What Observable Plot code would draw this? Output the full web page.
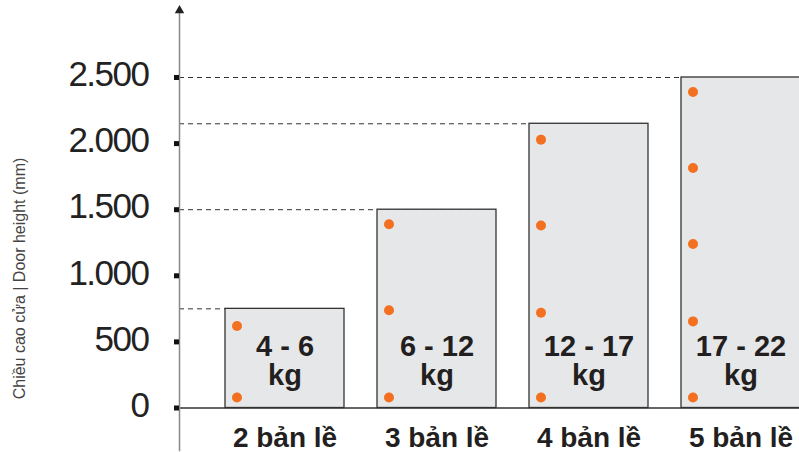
<!DOCTYPE html>
<html><head><meta charset="utf-8">
<script src="https://cdn.jsdelivr.net/npm/d3@7"></script>
<script src="https://cdn.jsdelivr.net/npm/@observablehq/plot@0.6"></script>
<style>
body{margin:0;background:#fff;}
#chart svg{display:block;}
</style></head><body><div id="chart"></div>
<script>
const hinges = ["2 bản lề", "3 bản lề", "4 bản lề", "5 bản lề"];
const heights = [750, 1500, 2150, 2500];
const weights = ["4 - 6", "6 - 12", "12 - 17", "17 - 22"];
const hingePositions = [
  [80, 620],
  [80, 740, 1390],
  [80, 720, 1380, 2030],
  [80, 655, 1240, 1815, 2390]
];
const yTicks = [0, 500, 1000, 1500, 2000, 2500];
const yTickLabels = ["0", "500", "1.000", "1.500", "2.000", "2.500"];
const yTitle = "Chiều cao cửa | Door height (mm)";

const rows = hinges.map((h, i) => ({hinge: h, height: heights[i], weight: weights[i]}));
const dots = hinges.flatMap((h, i) => hingePositions[i].map(p => ({hinge: h, pos: p})));
const font = "'Liberation Sans', Arial, Helvetica, sans-serif";

const chart = Plot.plot({
  width: 799, height: 452,
  marginLeft: 179, marginRight: 0, marginTop: 10, marginBottom: 2,
  style: {fontFamily: font, background: "#fff", overflow: "hidden"},
  x: {domain: hinges, range: [225, 800], paddingInner: 0.22, paddingOuter: 0, axis: null},
  y: {domain: [0, 2500], range: [407.5, 77], axis: null},
  marks: [
    // dashed guides from the axis to each bar's left edge
    Plot.ruleY(rows, {y: "height", x1: () => hinges[0], x2: "hinge", insetLeft: -46,
      stroke: "#333", strokeDasharray: "5,4"}),
    Plot.barY(rows, {x: "hinge", y: "height", fill: "#e6e7e8", stroke: "#333", strokeWidth: 1.3}),
    Plot.ruleY([0], {stroke: "#333", strokeWidth: 1.5}),
    Plot.frame({anchor: "left", stroke: "#888", strokeWidth: 1.5}),
    Plot.dot([0], {frameAnchor: "top-left", symbol: "triangle", r: 3.5, fill: "#222", stroke: null}),
    Plot.axisY(yTicks, {tickSize: 5, strokeWidth: 5, stroke: "#111", tickPadding: 26, fontSize: 35, fill: "#222",
      tickFormat: d => yTickLabels[yTicks.indexOf(d)], label: null}),
    Plot.dot(dots, {x: "hinge", y: "pos", r: 5, fill: "#f37021", dx: -48}),
    Plot.text(rows, {x: "hinge", y: 0, text: d => d.weight + "\nkg", lineAnchor: "bottom", lineHeight: 1,
      dy: -23, fontSize: 29, fontWeight: "bold", fill: "#231f20"}),
    Plot.text(rows, {x: "hinge", y: 0, text: "hinge", lineAnchor: "bottom", dy: 39, fontSize: 28,
      fontWeight: "bold", fill: "#231f20"}),
    Plot.text([yTitle], {frameAnchor: "left", textAnchor: "middle", rotate: -90, dx: -160, dy: 48,
      fontSize: 16, fill: "#444"})
  ]
});
document.getElementById("chart").append(chart);

// nudge tick labels to sit like the original typesetting
d3.select(chart).selectAll('g[aria-label="y-axis tick label"] text')
  .attr("y", "0.25em")
  .style("letter-spacing", "-1.5px");
</script></body></html>
